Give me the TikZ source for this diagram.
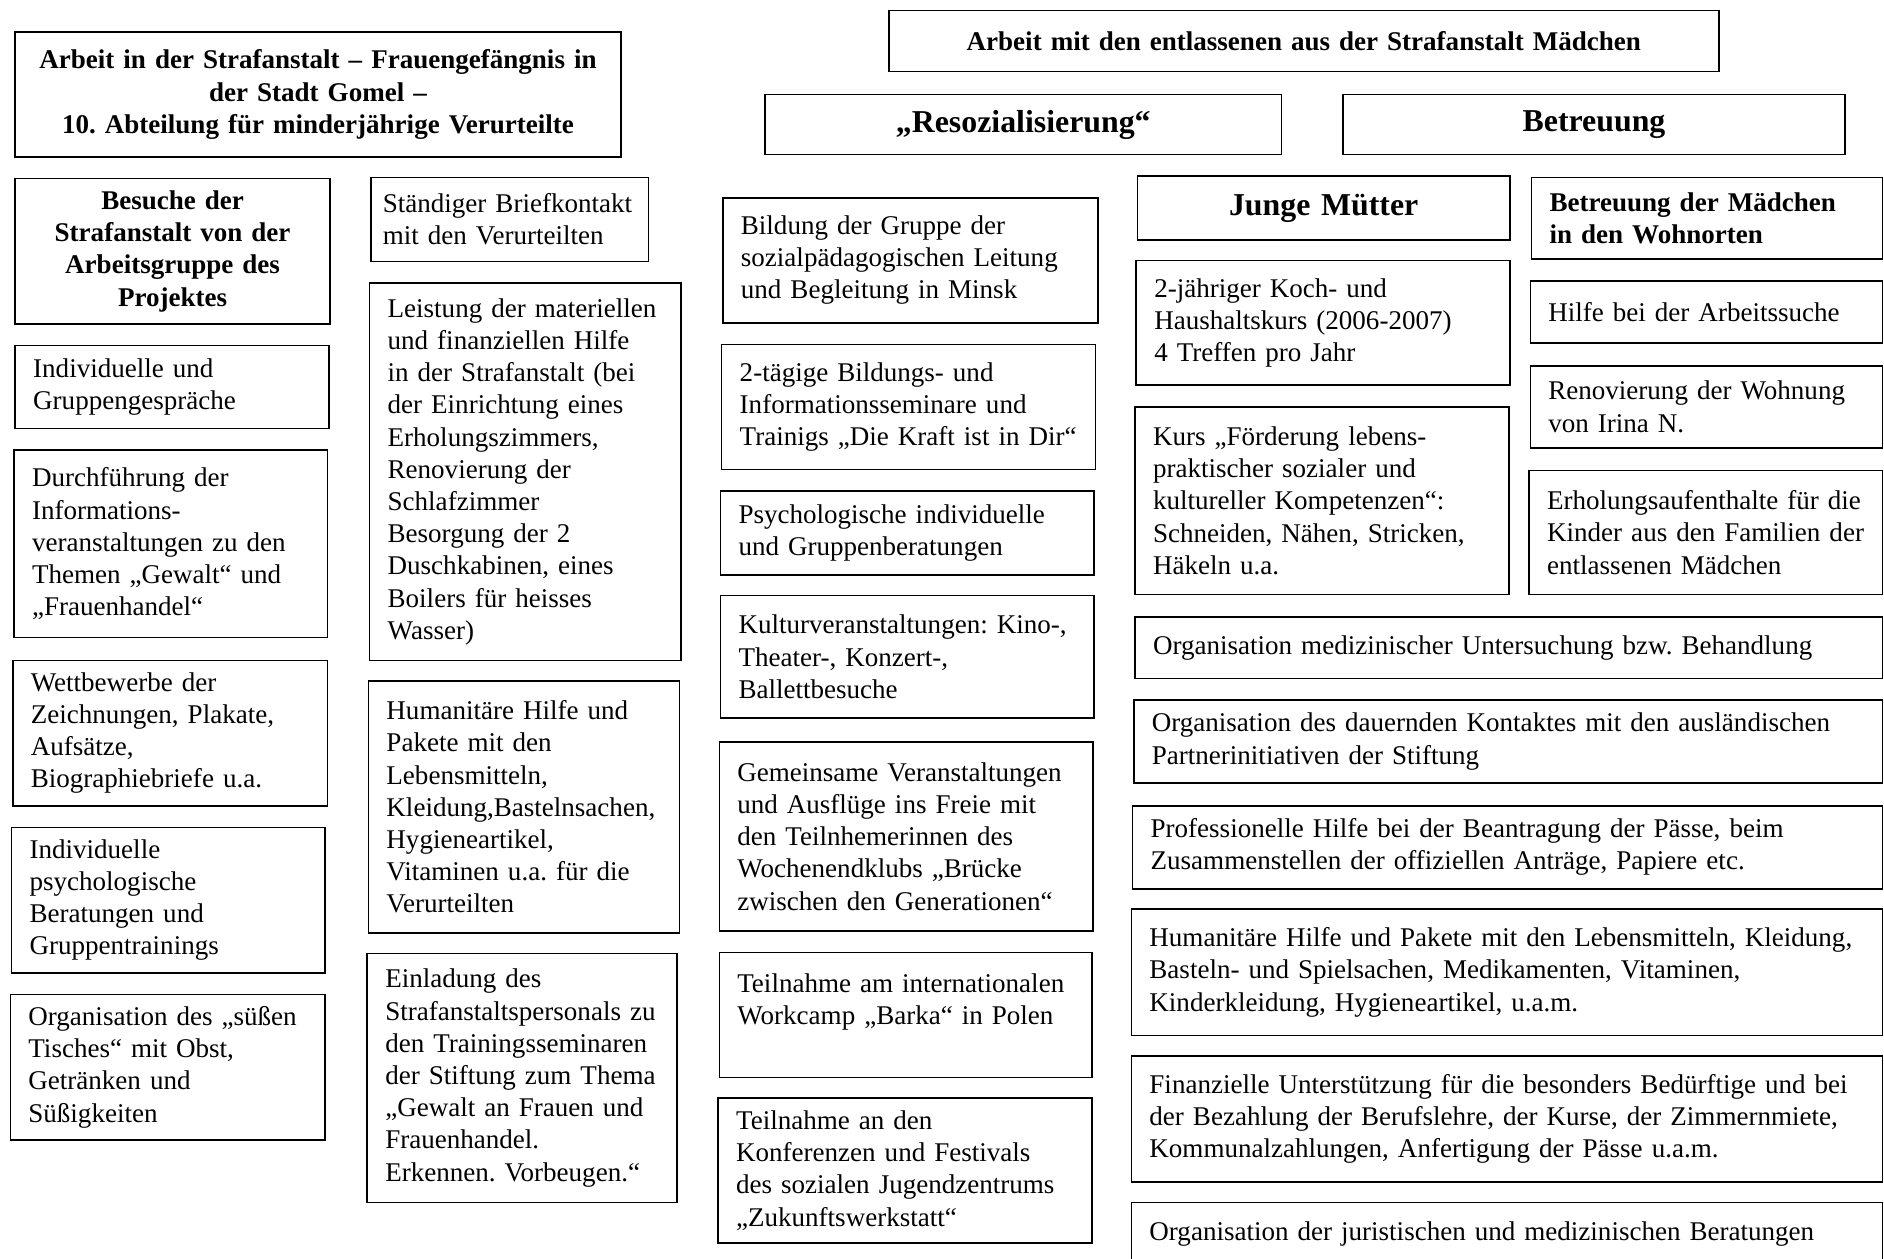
\documentclass[tikz,border=0pt]{standalone}
\usepackage{fontspec}
\setmainfont{Liberation Serif}
\usepackage{tikz}
\frenchspacing

\begin{document}
\begin{tikzpicture}
    [
    x=1pt, y=-1pt,
    box/.style={draw, line width=1.3pt, anchor=north west, align=left,
      inner xsep=15pt, inner ysep=0pt, font=\fontsize{22.5}{26.8}\selectfont},
    head/.style={box, align=center, font=\fontsize{22.5}{26.8}\selectfont\bfseries},
    bighead/.style={box, align=center, font=\fontsize{26.5}{30}\selectfont\bfseries},
    ]
    \useasboundingbox (0,0) rectangle (1568,1047);
    \clip (0,0) rectangle (1568,1047);

    % Strafanstalt
    \node (gomel) at (12,26) [head, text width=474pt, minimum height=104pt]
      {Arbeit in der Strafanstalt – Frauengefängnis in\\ der Stadt Gomel –\\ 10. Abteilung für minderjährige Verurteilte};
    \node (besuch) at (12,148) [head, text width=232pt, minimum height=121pt]
      {Besuche der\\ Strafanstalt von der\\ Arbeitsgruppe des\\ Projektes};
    \node (gespr) at (12,287) [box, text width=231pt, minimum height=69pt]
      {Individuelle und\\ Gruppengespräche};
    \node (durchf) at (11,374) [box, text width=231pt, minimum height=156pt]
      {Durchführung der\\ Informations-\\ veranstaltungen zu den\\ Themen „Gewalt“ und\\ „Frauenhandel“};
    \node (wettb) at (10,549) [box, text width=232pt, minimum height=121pt]
      {Wettbewerbe der\\ Zeichnungen, Plakate,\\ Aufsätze,\\ Biographiebriefe u.a.};
    \node (psych) at (9,688) [box, text width=231pt, minimum height=121pt]
      {Individuelle\\ psychologische\\ Beratungen und\\ Gruppentrainings};
    \node (tisch) at (8,827) [box, text width=232pt, minimum height=121pt]
      {Organisation des „süßen\\ Tisches“ mit Obst,\\ Getränken und\\ Süßigkeiten};

    \node (brief) at (308,147) [box, inner xsep=10pt, text width=211pt, minimum height=70pt]
      {Ständiger Briefkontakt\\ mit den Verurteilten};
    \node (leist) at (307,235) [box, text width=229pt, minimum height=314pt]
      {Leistung der materiellen\\ und finanziellen Hilfe\\ in der Strafanstalt (bei\\ der Einrichtung eines\\ Erholungszimmers,\\ Renovierung der\\ Schlafzimmer\\ Besorgung der 2\\ Duschkabinen, eines\\ Boilers für heisses\\ Wasser)};
    \node (human) at (306,566) [box, text width=229pt, minimum height=210pt]
      {Humanitäre Hilfe und\\ Pakete mit den\\ Lebensmitteln,\\ Kleidung,Bastelnsachen,\\ Hygieneartikel,\\ Vitaminen u.a. für die\\ Verurteilten};
    \node (einlad) at (305,793) [box, text width=228pt, minimum height=207pt]
      {Einladung des\\ Strafanstaltspersonals zu\\ den Trainingsseminaren\\ der Stiftung zum Thema\\ „Gewalt an Frauen und\\ Frauenhandel.\\ Erkennen. Vorbeugen.“};

    % entlassene Mädchen
    \node (entl) at (739,8) [head, text width=661pt, minimum height=51pt]
      {Arbeit mit den entlassenen aus der Strafanstalt Mädchen};
    \node (resoz) at (636,78) [bighead, text width=400pt, minimum height=50pt]
      {„Resozialisierung“};
    \node (betr) at (1117,78) [bighead, text width=388pt, minimum height=50pt]
      {Betreuung};

    \node (bild) at (601,164) [box, text width=282pt, minimum height=104pt]
      {Bildung der Gruppe der\\ sozialpädagogischen Leitung\\ und Begleitung in Minsk};
    \node (seminar) at (600,286) [box, text width=281pt, minimum height=104pt]
      {2-tägige Bildungs- und\\ Informationsseminare und\\ Trainigs „Die Kraft ist in Dir“};
    \node (berat) at (599,408) [box, text width=281pt, minimum height=70pt]
      {Psychologische individuelle\\ und Gruppenberatungen};
    \node (kultur) at (599,495) [box, text width=281pt, minimum height=102pt]
      {Kulturveranstaltungen: Kino-,\\ Theater-, Konzert-,\\ Ballettbesuche};
    \node (gemein) at (598,617) [box, text width=281pt, minimum height=157pt]
      {Gemeinsame Veranstaltungen\\ und Ausflüge ins Freie mit\\ den Teilnhemerinnen des\\ Wochenendklubs „Brücke\\ zwischen den Generationen“};
    \node (barka) at (598,792) [box, text width=280pt, minimum height=104pt]
      {Teilnahme am internationalen\\ Workcamp „Barka“ in Polen\\ \mbox{}};
    \node (zukunft) at (597,913) [box, text width=281pt, minimum height=121pt]
      {Teilnahme an den\\ Konferenzen und Festivals\\ des sozialen Jugendzentrums\\ „Zukunftswerkstatt“};

    \node (muetter) at (946,146) [bighead, text width=280pt, minimum height=53pt]
      {Junge Mütter};
    \node (koch) at (945,216) [box, text width=281pt, minimum height=104pt]
      {2-jähriger Koch- und\\ Haushaltskurs (2006-2007)\\ 4 Treffen pro Jahr};
    \node (kurs) at (944,338) [box, text width=281pt, minimum height=156pt]
      {Kurs „Förderung lebens-\\ praktischer sozialer und\\ kultureller Kompetenzen“:\\ Schneiden, Nähen, Stricken,\\ Häkeln u.a.};

    \node (wohn) at (1274,147) [head, align=left, text width=262pt, minimum height=68pt]
      {Betreuung der Mädchen\\ in den Wohnorten};
    \node (arbeit) at (1273,233) [box, text width=263pt, minimum height=52pt]
      {Hilfe bei der Arbeitssuche};
    \node (renov) at (1273,304) [box, text width=263pt, minimum height=68pt]
      {Renovierung der Wohnung\\ von Irina N.};
    \node (erhol) at (1272,391) [box, text width=264pt, minimum height=103pt]
      {Erholungsaufenthalte für die\\ Kinder aus den Familien der\\ entlassenen Mädchen};

    \node (medi) at (944,513) [box, text width=592pt, minimum height=51pt]
      {Organisation medizinischer Untersuchung bzw. Behandlung};
    \node (kontakt) at (943,582) [box, text width=593pt, minimum height=69pt]
      {Organisation des dauernden Kontaktes mit den ausländischen\\ Partnerinitiativen der Stiftung};
    \node (paesse) at (942,670) [box, text width=594pt, minimum height=69pt]
      {Professionelle Hilfe bei der Beantragung der Pässe, beim\\ Zusammenstellen der offiziellen Anträge, Papiere etc.};
    \node (hilfe) at (941,756) [box, text width=595pt, minimum height=105pt]
      {Humanitäre Hilfe und Pakete mit den Lebensmitteln, Kleidung,\\ Basteln- und Spielsachen, Medikamenten, Vitaminen,\\ Kinderkleidung, Hygieneartikel, u.a.m.};
    \node (finanz) at (941,878) [box, text width=595pt, minimum height=105pt]
      {Finanzielle Unterstützung für die besonders Bedürftige und bei\\ der Bezahlung der Berufslehre, der Kurse, der Zimmernmiete,\\ Kommunalzahlungen, Anfertigung der Pässe u.a.m.};
    \node (jurist) at (941,1000) [box, text width=595pt, minimum height=52pt]
      {Organisation der juristischen und medizinischen Beratungen};
\end{tikzpicture}
\end{document}
